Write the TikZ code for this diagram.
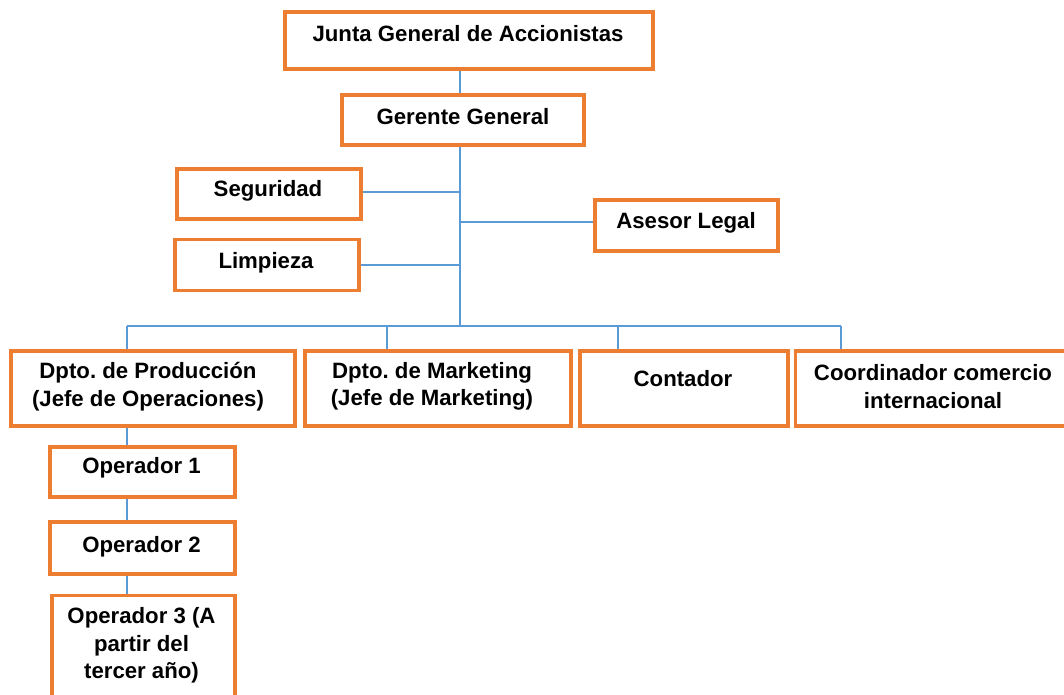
\documentclass[tikz,border=0pt]{standalone}
\usepackage{fontspec}
\setmainfont{Liberation Sans}
\definecolor{boxorange}{HTML}{ED7D31}
\definecolor{lineblue}{HTML}{5B9BD5}
\begin{document}
\frenchspacing
\begin{tikzpicture}[x=1pt,y=-1pt,
  orgbox/.style={draw=boxorange,line width=3.6pt,fill=white,rectangle,inner sep=0pt},
  lbl/.style={font=\fontsize{22.2}{27.5}\selectfont\bfseries,align=center,inner sep=0pt,anchor=center},
  link/.style={draw=lineblue,line width=2pt}]
\useasboundingbox (0,0) rectangle (1064,695);
\clip (0,0) rectangle (1064,695);
\fill[white] (0,0) rectangle (1064,695);
% boxes
\node[orgbox,minimum width=368pt,minimum height=57pt] (junta) at (469,40.5) {};
\node[orgbox,minimum width=242pt,minimum height=50pt] (gerente) at (463,120) {};
\node[orgbox,minimum width=184pt,minimum height=50pt] (seg) at (269,194) {};
\node[orgbox,minimum width=184pt,minimum height=51pt] (limp) at (267,265) {};
\node[orgbox,minimum width=183pt,minimum height=51pt] (asesor) at (686.5,225.5) {};
\node[orgbox,minimum width=284pt,minimum height=75pt] (prod) at (153,388.5) {};
\node[orgbox,minimum width=266pt,minimum height=75pt] (mkt) at (438,388.5) {};
\node[orgbox,minimum width=208pt,minimum height=75pt] (cont) at (684,388.5) {};
\node[orgbox,minimum width=276pt,minimum height=75pt] (coord) at (933.5,388.5) {};
\node[orgbox,minimum width=185pt,minimum height=50pt] (op1) at (142.5,472) {};
\node[orgbox,minimum width=185pt,minimum height=52pt] (op2) at (142.5,548) {};
\node[orgbox,minimum width=183pt,minimum height=120pt] (op3) at (143.5,655.5) {};
% texts
\node[lbl] (tjunta) at (468,33.5) {Junta General de Accionistas};
\node[lbl] (tgerente) at (463,116.5) {Gerente General};
\node[lbl] (tseg) at (268,190.5) {Seguridad};
\node[lbl] (tlimp) at (266,262.5) {Limpieza};
\node[lbl] (tasesor) at (686,222.5) {Asesor Legal};
\node[lbl] (tprod) at (148,386.5) {Dpto. de Producción\\(Jefe de Operaciones)};
\node[lbl] (tmkt) at (432,386.5) {Dpto. de Marketing\\(Jefe de Marketing)};
\node[lbl] (tcont) at (683,378.5) {Contador};
\node[lbl] (tcoord) at (933,386.5) {Coordinador comercio\\internacional};
\node[lbl] (top1) at (141.5,467.5) {Operador 1};
\node[lbl] (top2) at (141.5,546.5) {Operador 2};
\node[lbl] (top3) at (141.5,645.5) {Operador 3 (A\\partir del\\tercer año)};
% connectors
\coordinate (trunk) at (460,0);
\coordinate (busL) at (127,326);
\coordinate (busR) at (841,326);
\coordinate (busM) at (460,326);
\coordinate (mktx) at (387,326);
\coordinate (contx) at (618,326);
\draw[link] (junta.south -| trunk) -- (gerente.north -| trunk);
\draw[link] (gerente.south -| trunk) -- (busM);
\draw[link] (seg.east) ++(0,-2) coordinate (sege) -- (sege -| trunk);
\draw[link] (limp.east) -- (limp.east -| trunk);
\draw[link] (asesor.west) ++(0,-3.5) coordinate (asw) -- (asw -| trunk);
\draw[link] (busL) -- (busR);
\draw[link] (busL) -- (busL |- prod.north);
\draw[link] (mktx) -- (mktx |- mkt.north);
\draw[link] (contx) -- (contx |- cont.north);
\draw[link] (busR) -- (busR |- coord.north);
\draw[link] (prod.south -| busL) -- (op1.north -| busL);
\draw[link] (op1.south -| busL) -- (op2.north -| busL);
\draw[link] (op2.south -| busL) -- (op3.north -| busL);
\end{tikzpicture}
\end{document}
